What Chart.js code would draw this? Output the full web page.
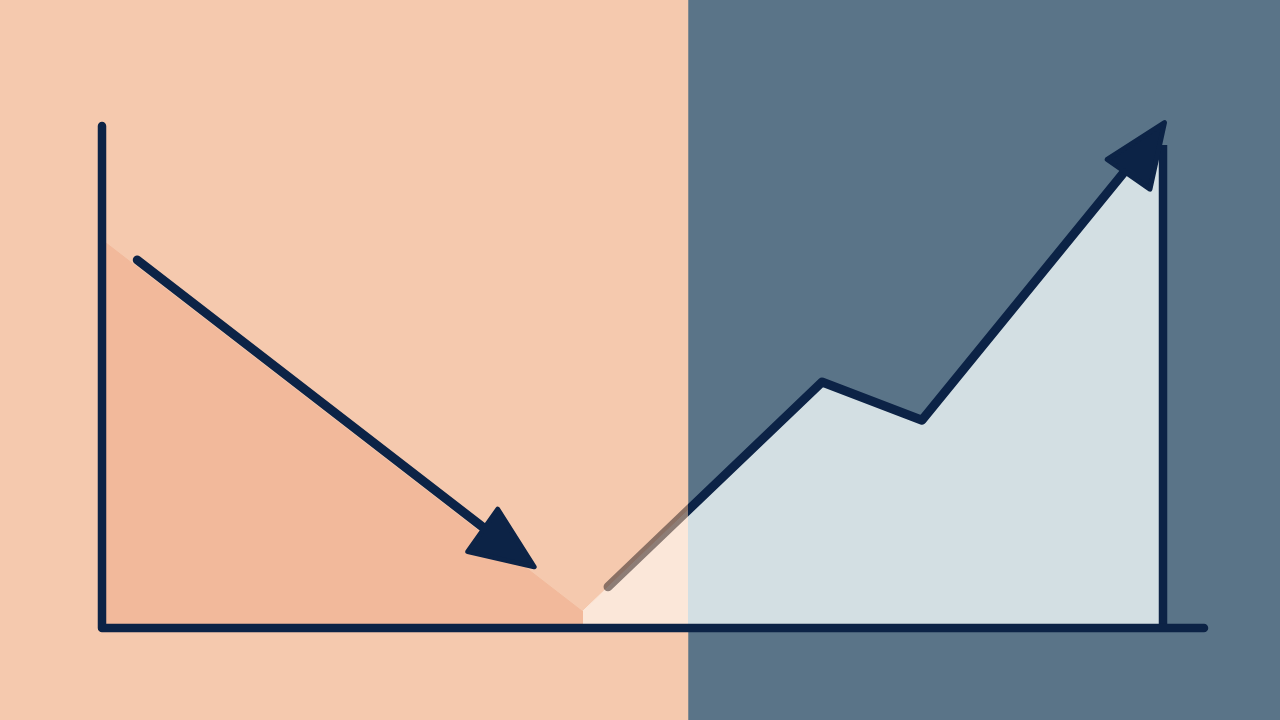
<!DOCTYPE html>
<html>
<head>
<meta charset="utf-8">
<style>
  html, body { margin: 0; padding: 0; background: #f5c9ae; }
  #wrap { width: 1280px; height: 720px; }
</style>
<script src="https://cdn.jsdelivr.net/npm/chart.js@4"></script>
</head>
<body>
<div id="wrap"><canvas id="trendChart"></canvas></div>
<script>
// Data (x and y on a 0-100 scale)
const splitX = 53.2            // where the background turns from peach to slate

const declineAreaX = [0, 43.65]
const declineAreaY = [77.3, 3.2]

const declineLineX = [3.2, 36.2]
const declineLineY = [73.3, 17.3]

const recoveryAreaX = [43.65, 65.34, 74.41, 94.19, 96.28]
const recoveryAreaY = [3.4, 49.0, 41.4, 94.6, 93.2]

const recoveryLineX = [45.92, 65.34, 74.41, 94.01]
const recoveryLineY = [8.2, 49.0, 41.4, 94.2]

const markerX = [96.28, 96.28]
const markerY = [0, 96.2]

// Colors
const navy = '#0c2346'
const peachBg = '#f5c9ae'
const slateBg = '#5a7488'
const peachFill = '#f2b99b'
const creamFill = '#fbe7d9'
const paleBlueFill = '#d3dfe3'
const ghostLine = 'rgba(62,48,46,0.58)'

const toPoints = (xs, ys) => xs.map((x, i) => ({ x: x, y: ys[i] }))

// hard-stop gradient split at splitX
const splitGradient = (chart, leftColor, rightColor) => {
    const { ctx, chartArea, scales } = chart
    if (!chartArea) return rightColor
    const sx = scales.x.getPixelForValue(splitX)
    const t = Math.min(Math.max(sx / chart.width, 0), 1)
    const g = ctx.createLinearGradient(0, 0, chart.width, 0)
    g.addColorStop(0, leftColor)
    g.addColorStop(t, leftColor)
    g.addColorStop(t, rightColor)
    g.addColorStop(1, rightColor)
    return g
}

const backgroundPlugin = {
    id: 'splitBackground',
    beforeDraw: (chart) => {
        const { ctx, scales } = chart
        const sx = scales.x.getPixelForValue(splitX)
        ctx.save()
        ctx.fillStyle = peachBg
        ctx.fillRect(0, 0, sx, chart.height)
        ctx.fillStyle = slateBg
        ctx.fillRect(sx, 0, chart.width - sx, chart.height)
        ctx.restore()
    }
}

const axesPlugin = {
    id: 'roundAxes',
    afterDatasetsDraw: (chart) => {
        const { ctx, chartArea } = chart
        ctx.save()
        ctx.strokeStyle = navy
        ctx.lineWidth = 8.5
        ctx.lineCap = 'round'
        ctx.lineJoin = 'round'
        ctx.beginPath()
        ctx.moveTo(chartArea.left, chartArea.top)
        ctx.lineTo(chartArea.left, chartArea.bottom)
        ctx.lineTo(chartArea.right, chartArea.bottom)
        ctx.stroke()
        ctx.restore()
    }
}

// arrowheads at the end of the line datasets
const arrowPlugin = {
    id: 'arrowHeads',
    afterDatasetsDraw: (chart) => {
        const { ctx } = chart
        chart.data.datasets.forEach((ds, i) => {
            if (!ds.arrowHead) return
            const pts = chart.getDatasetMeta(i).data
            const p1 = pts[pts.length - 2]
            const p2 = pts[pts.length - 1]
            let dx = p2.x - p1.x, dy = p2.y - p1.y
            const len = Math.hypot(dx, dy)
            dx /= len; dy /= len
            const ahead = 42, headLen = 63, half = 26
            const tipX = p2.x + dx * ahead, tipY = p2.y + dy * ahead
            // head may lean a little off the shaft
            const a = Math.atan2(dy, dx) + (ds.arrowTilt || 0) * Math.PI / 180
            const hx = Math.cos(a), hy = Math.sin(a)
            const bx = tipX - hx * headLen, by = tipY - hy * headLen
            ctx.save()
            ctx.fillStyle = navy
            ctx.strokeStyle = navy
            ctx.lineWidth = 5
            ctx.lineJoin = 'round'
            ctx.beginPath()
            ctx.moveTo(tipX, tipY)
            ctx.lineTo(bx - hy * half, by + hx * half)
            ctx.lineTo(bx + hy * half, by - hx * half)
            ctx.closePath()
            ctx.fill()
            ctx.stroke()
            ctx.restore()
        })
    }
}

const chart = new Chart(document.getElementById('trendChart'), {
    type: 'line',
    data: {
        datasets: [
            {
                label: 'Decline',
                data: toPoints(declineLineX, declineLineY),
                borderColor: navy,
                borderWidth: 9,
                borderCapStyle: 'round',
                fill: false,
                arrowHead: true,
                arrowTilt: -2.4,
                order: 0
            },
            {
                label: 'Recovery',
                data: toPoints(recoveryLineX, recoveryLineY),
                borderColor: (c) => splitGradient(c.chart, ghostLine, navy),
                borderWidth: 9,
                borderCapStyle: 'round',
                borderJoinStyle: 'round',
                fill: false,
                arrowHead: true,
                arrowTilt: -4.4,
                order: 1
            },
            {
                label: 'Marker',
                data: toPoints(markerX, markerY),
                borderColor: navy,
                borderWidth: 8.5,
                borderCapStyle: 'butt',
                fill: false,
                order: 2
            },
            {
                label: 'Recovery area',
                data: toPoints(recoveryAreaX, recoveryAreaY),
                borderWidth: 1,
                borderColor: (c) => splitGradient(c.chart, creamFill, paleBlueFill),
                backgroundColor: (c) => splitGradient(c.chart, creamFill, paleBlueFill),
                fill: 'origin',
                order: 3
            },
            {
                label: 'Decline area',
                data: toPoints(declineAreaX, declineAreaY),
                borderWidth: 1,
                borderColor: peachFill,
                backgroundColor: peachFill,
                fill: 'origin',
                order: 4
            }
        ]
    },
    options: {
        responsive: true,
        maintainAspectRatio: false,
        animation: false,
        layout: { padding: { left: 102, top: 126, right: 76, bottom: 92 } },
        elements: { point: { radius: 0, hoverRadius: 0 }, line: { tension: 0 } },
        clip: false,
        scales: {
            x: { type: 'linear', min: 0, max: 100, display: false },
            y: { type: 'linear', min: 0, max: 100, display: false }
        },
        plugins: {
            legend: { display: false },
            tooltip: { enabled: false }
        }
    },
    plugins: [backgroundPlugin, axesPlugin, arrowPlugin]
})
</script>
</body>
</html>
